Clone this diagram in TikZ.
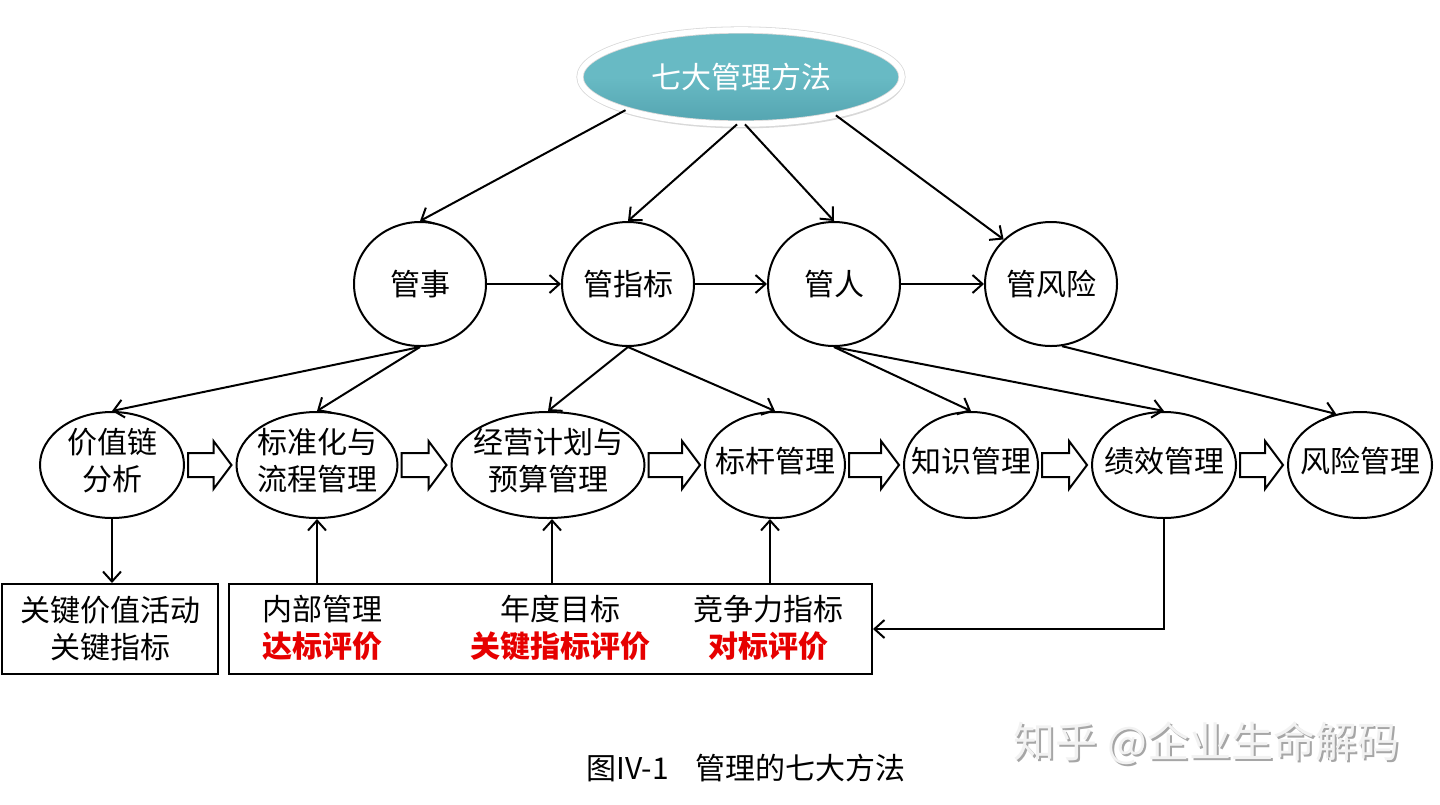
\documentclass[tikz,border=0pt]{standalone}
\usepackage{fontspec}
\setmainfont{Noto Sans CJK SC}
\usetikzlibrary{shapes.geometric,arrows.meta,shadows,calc}
\definecolor{teal1}{RGB}{104,186,196}
\definecolor{teal2}{RGB}{84,164,176}
\definecolor{redtxt}{RGB}{230,0,0}
\newcommand\zt[1]{\makebox[0pt]{\begin{tabular}{@{}c@{}}#1\end{tabular}}}
\newcommand\rb[1]{{\bfseries\color{redtxt}#1}}
\newcommand\blockarrow[2]{%
  \draw[blk] let \p1=(#1.east), \p2=(#2.west) in
  (\x1+1.5pt,\y1+6pt) -- (\x2-11pt,\y1+6pt) -- (\x2-11pt,\y1+12pt) -- (\x2-2pt,\y1)
  -- (\x2-11pt,\y1-12pt) -- (\x2-11pt,\y1-6pt) -- (\x1+1.5pt,\y1-6pt) -- cycle;}
\tikzset{
  txt/.style={font=\fontsize{15}{18.5}\selectfont, align=center, inner sep=0pt},
  ell/.style={ellipse, draw, line width=1pt, inner sep=0pt, txt},
  con/.style={line width=1pt, -{Straight Barb[length=5pt,width=9pt]}},
  blk/.style={draw, line width=1pt, fill=white, line join=miter},
  boxn/.style={draw, line width=1pt, inner sep=0pt, rectangle},
  topell/.style={ellipse, inner sep=0pt, top color=teal1, bottom color=teal2, middle color=teal1,
    draw=gray!30, double=white, double distance=2.8pt, line width=0.4pt,
    drop shadow={shadow xshift=0.6pt, shadow yshift=-2.2pt, opacity=0.3},
    text=white, font=\fontsize{15}{18}\selectfont},
  wm/.style={font=\fontsize{21}{25}\selectfont, inner sep=0pt}
}
\begin{document}
\begin{tikzpicture}[x=0.5pt,y=-0.5pt]
\useasboundingbox (0,0) rectangle (1440,804);
% top
\node[topell, minimum width=161pt, minimum height=47pt] (top) at (741,77) {七大管理方法};
% row 2
\node[ell, minimum width=66pt, minimum height=62pt] (gs) at (420,284) {管事};
\node[ell, minimum width=66pt, minimum height=62pt] (gzb) at (628,284) {管指标};
\node[ell, minimum width=66pt, minimum height=62pt] (gr) at (834,284) {管人};
\node[ell, minimum width=66pt, minimum height=62pt] (gfx) at (1051,284) {管风险};
% row 3
\node[ell, minimum width=72pt, minimum height=53pt] (jzl) at (112,465) {\zt{价值链\\分析}};
\node[ell, minimum width=80.5pt, minimum height=53pt] (bzh) at (317,465) {\zt{标准化与\\流程管理}};
\node[ell, minimum width=96.5pt, minimum height=53pt] (jy) at (548,465) {\zt{经营计划与\\预算管理}};
\node[ell, minimum width=70pt, minimum height=53pt] (bg) at (775,465) {\zt{标杆管理}};
\node[ell, minimum width=67pt, minimum height=53pt] (zs) at (971,465) {\zt{知识管理}};
\node[ell, minimum width=72pt, minimum height=53pt] (jx) at (1164,465) {\zt{绩效管理}};
\node[ell, minimum width=72pt, minimum height=53pt] (fx) at (1360,465) {\zt{风险管理}};
% boxes
\node[boxn, minimum width=108pt, minimum height=45pt, txt] (b1) at (110,629) {关键价值活动\\关键指标};
\node[boxn, minimum width=321.5pt, minimum height=45pt] (b2) at (550.5,629) {};
\node[txt] (t1) at (322,628) {内部管理\\\rb{达标评价}};
\node[txt] (t2) at (560,628) {年度目标\\\rb{关键指标评价}};
\node[txt] (t3) at (768,628) {竞争力指标\\\rb{对标评价}};
% caption and watermark
\node[txt] (cap) at (746,768) {图IV-1\hspace{0.9em}管理的七大方法};
\node[wm, text=gray!70] (wms) at (1208.5,745.5) {知乎 @企业生命解码};
\node[wm, text=gray!10] (wmt) at (1206.5,743.5) {知乎 @企业生命解码};
% connectors top
\draw[con] (top.196) -- (gs.north);
\draw[con] ([xshift=-2pt]top.south) -- (gzb.north);
\draw[con] ([xshift=2pt]top.south) -- (gr.north);
\draw[con] (top.-22) -- (gfx.north west);
% row 2 horizontals
\draw[con] (gs) -- (gzb);
\draw[con] (gzb) -- (gr);
\draw[con] (gr) -- (gfx);
% row2 -> row3
\draw[con] (gs.south) -- (jzl.north);
\draw[con] (gs.south) -- (bzh.north);
\draw[con] (gzb.south) -- (jy.north);
\draw[con] (gzb.south) -- (bg.north);
\draw[con] (gr.south) -- (zs.north);
\draw[con] (gr.south) -- (jx.north);
\draw[con] (gfx.280) -- (fx.115);
% block arrows
\blockarrow{jzl}{bzh}
\blockarrow{bzh}{jy}
\blockarrow{jy}{bg}
\blockarrow{bg}{zs}
\blockarrow{zs}{jx}
\blockarrow{jx}{fx}
% bottom
\draw[con] (jzl.south) -- (jzl.south |- b1.north);
\draw[con] (bzh.south |- b2.north) -- (bzh.south);
\draw[con] ([xshift=2pt]jy.south |- b2.north) -- ([xshift=2pt]jy.south);
\draw[con] ([xshift=-2.5pt]bg.south |- b2.north) -- ([xshift=-2.5pt]bg.south);
\draw[con] (jx.south) |- (b2.east);
\end{tikzpicture}
\end{document}
